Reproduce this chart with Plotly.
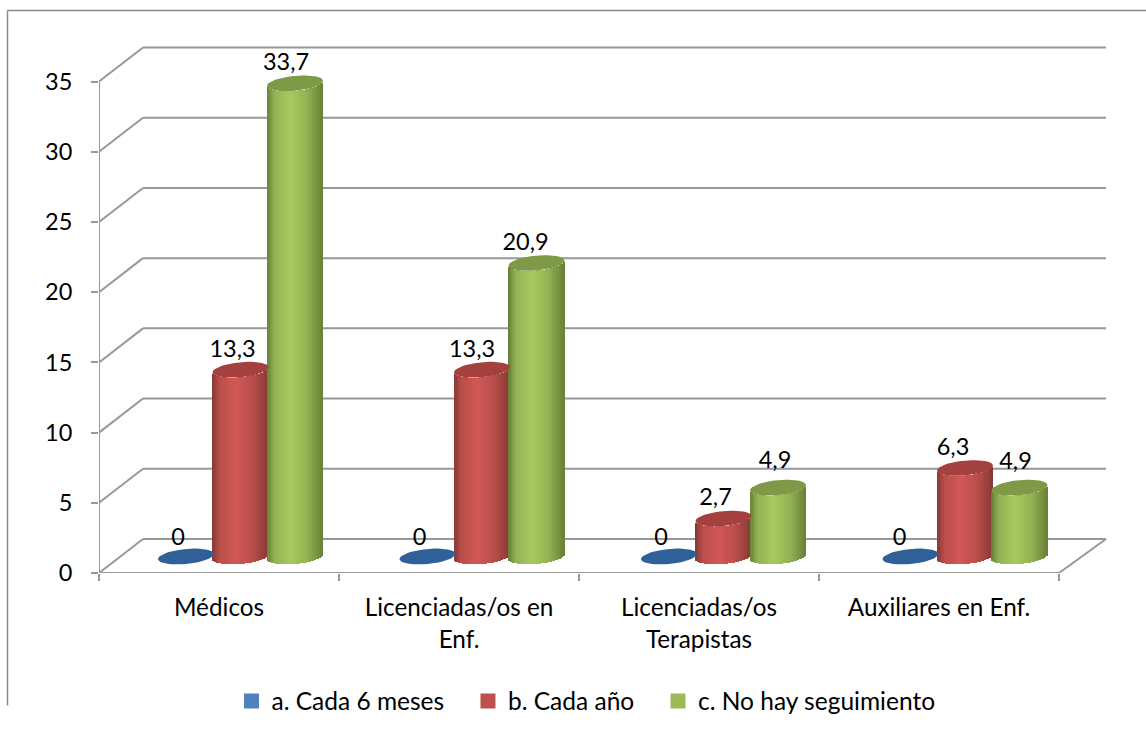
import math
import plotly.graph_objects as go

categories = ["Médicos", "Licenciadas/os en<br>Enf.", "Licenciadas/os<br>Terapistas", "Auxiliares en Enf."]
series_names = ["a. Cada 6 meses", "b. Cada año", "c. No hay seguimiento"]
cada_6_meses = [0, 0, 0, 0]
cada_ano = [13.3, 13.3, 2.7, 6.3]
no_seguimiento = [33.7, 20.9, 4.9, 4.9]
series_values = [cada_6_meses, cada_ano, no_seguimiento]
y_ticks = [0, 5, 10, 15, 20, 25, 30, 35]

legend_colors = ["#4f81bd", "#c0504d", "#9bbb59"]
cap_colors = ["#2f6098", "#a4413e", "#7e9a47"]
dark = [None, (134, 56, 54), (104, 128, 54)]
mid = [None, (186, 78, 75), (146, 178, 84)]
light = [None, (208, 88, 85), (168, 201, 96)]

W, H = 1146, 733
ML, MR, MT, MB = 99, 36, 40, 160.4
PX_X = 240.0          # px per category
PX_Y = 14.03          # px per value unit
GROUP_STEP = 241.5 / PX_X
SERIES_STEP = 54.5 / PX_X
FIRST_CENTER = (240.5 - ML) / PX_X - 0.5
DEPTH_X = 44 / PX_X
DEPTH_X_END = 47 / PX_X
DEPTH_Y = 34 / PX_Y
BASE_Y = 16.5 / PX_Y
A = 28.0
B = 7.5
K = 0.09
LABEL_DX = -8
LABEL_DY = 19
# per-label nudges in px (series, then category), as the source placed them unevenly
LABEL_NUDGE_X = [[0, 0, 0, -3], [0, -2, 0, -4], [-1, -3, 5, 4]]
LABEL_NUDGE_Y = [[-2, -2, -2, -2], [0, 0, 0, 0], [0, 0, 7, 6]]
N_STRIPS = 40
GRID = "#989898"
TEXT_FONT = "Lato"
FS = 23.5


def center_x(g, s):
    return FIRST_CENTER + g * GROUP_STEP + (s - 1) * SERIES_STEP


def mix(c1, c2, t):
    return tuple(round(a + (b - a) * t) for a, b in zip(c1, c2))


def shade(i, t):
    stops = [(0, dark[i]), (0.14, mid[i]), (0.42, light[i]), (0.72, mid[i]), (1, dark[i])]
    for (t0, c0), (t1, c1) in zip(stops, stops[1:]):
        if t <= t1:
            return "rgb(%d,%d,%d)" % mix(c0, c1, (t - t0) / (t1 - t0))
    return "rgb(%d,%d,%d)" % dark[i]


xmin = -0.5
xmax = xmin + (W - ML - MR) / PX_X
xend = xmin + 4
ymax = (H - MT - MB) / PX_Y

fig = go.Figure()

# cylinder bodies
for s, values in enumerate(series_values):
    if s == 0:
        continue
    xs, bases, heights, cols = [], [], [], []
    for g, v in enumerate(values):
        for j in range(N_STRIPS):
            t = (j + 0.5) / N_STRIPS
            u = (2 * t - 1) * A
            xs.append(center_x(g, s) + u / PX_X)
            low = K * u - B * math.sqrt(max(0, 1 - (u / A) ** 2))
            bases.append(BASE_Y + low / PX_Y)
            heights.append(v)
            cols.append(shade(s, t))
    fig.add_trace(go.Bar(
        x=xs, y=heights, base=bases, width=(2 * A / N_STRIPS + 0.6) / PX_X,
        marker=dict(color=cols, line=dict(width=0)),
        showlegend=False, hoverinfo="skip"))

# top caps
for s, values in enumerate(series_values):
    ex, ey = [], []
    for g, v in enumerate(values):
        for d in range(0, 49):
            a = 2 * math.pi * d / 48
            u, w = A * math.cos(a), B * math.sin(a)
            ex.append(center_x(g, s) + u / PX_X)
            ey.append(BASE_Y + v + (K * u + w) / PX_Y)
        ex.append(None)
        ey.append(None)
    fig.add_trace(go.Scatter(
        x=ex, y=ey, mode="lines", fill="toself", fillcolor=cap_colors[s],
        line=dict(width=0, color=cap_colors[s]), showlegend=False, hoverinfo="skip"))

# data labels
for s, values in enumerate(series_values):
    fig.add_trace(go.Scatter(
        x=[center_x(g, s) + (LABEL_DX + LABEL_NUDGE_X[s][g]) / PX_X for g in range(4)],
        y=[BASE_Y + v + (LABEL_DY + LABEL_NUDGE_Y[s][g]) / PX_Y for g, v in enumerate(values)],
        mode="text", text=[str(v).replace(".", ",") for v in values],
        textposition="middle center",
        textfont=dict(family=TEXT_FONT, size=FS, color="#000000"),
        cliponaxis=False, showlegend=False, hoverinfo="skip"))

# legend entries
for name, col in zip(series_names, legend_colors):
    fig.add_trace(go.Scatter(
        x=[None], y=[None], mode="markers", name=name + "\u00a0\u00a0\u00a0",
        marker=dict(symbol="square", size=15, color=col)))

# wall, floor and axis lines
shapes = []


def seg(x0, y0, x1, y1):
    shapes.append(dict(type="line", xref="x", yref="y", x0=x0, y0=y0, x1=x1, y1=y1,
                       layer="below", line=dict(color=GRID, width=2)))


seg(xmin, 0, xmin, y_ticks[-1])
seg(xmin, 0, xend, 0)
seg(xend, 0, xend + DEPTH_X_END, DEPTH_Y)
for v in y_ticks:
    seg(xmin, v, xmin + DEPTH_X, v + DEPTH_Y)
    seg(xmin + DEPTH_X, v + DEPTH_Y, xend + DEPTH_X_END, v + DEPTH_Y)

# outer chart border
bx = (7.5 - ML) / (W - ML - MR)
bt = 1 + (MT - 10.5) / (H - MT - MB)
bb = 1 - (705 - MT) / (H - MT - MB)
for x0, y0, x1, y1 in [(bx, bb, bx, bt), (bx, bt, 1 + MR / (W - ML - MR), bt)]:
    shapes.append(dict(type="line", xref="paper", yref="paper", x0=x0, y0=y0, x1=x1, y1=y1,
                       line=dict(color="#8a8a8a", width=1.5)))

fig.update_layout(
    width=W, height=H, autosize=False,
    margin=dict(l=ML, r=MR, t=MT, b=MB, pad=0, autoexpand=False),
    paper_bgcolor="white", plot_bgcolor="white",
    barmode="overlay", bargap=0,
    shapes=shapes,
    font=dict(family=TEXT_FONT, size=FS, color="#000000"),
    legend=dict(orientation="h", xref="container", yref="container",
                x=0.202, xanchor="left", y=1 - 701 / H, yanchor="middle",
                itemwidth=30, font=dict(family=TEXT_FONT, size=24.5),
                bgcolor="rgba(0,0,0,0)"),
    xaxis=dict(range=[xmin, xmax], showgrid=False, zeroline=False, showline=False,
               automargin=False,
               tickmode="array", tickvals=[0, 1, 2, 3], ticktext=categories, ticks="",
               tickangle=0, ticklabelstandoff=18, tickfont=dict(family=TEXT_FONT, size=24.3),
               minor=dict(tickmode="array", tickvals=[-0.5, 0.5, 1.5, 2.5, 3.5],
                          ticks="outside", ticklen=7, tickwidth=2, tickcolor=GRID)),
    yaxis=dict(range=[0, ymax], showgrid=False, zeroline=False, showline=False,
               automargin=False,
               tickmode="array", tickvals=y_ticks, ticks="outside", ticklen=7,
               tickwidth=2, tickcolor=GRID, ticklabelstandoff=14),
)

fig.write_html("out.html", post_script="document.body.style.margin='0';",
               config={"displayModeBar": False})
